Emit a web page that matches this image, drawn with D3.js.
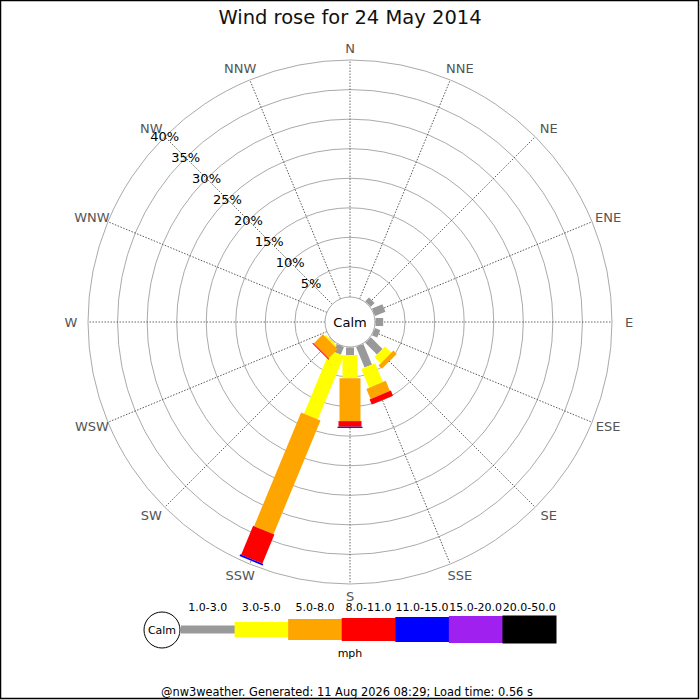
<!DOCTYPE html>
<html>
<head>
<meta charset="utf-8">
<script src="https://cdn.jsdelivr.net/npm/d3@7"></script>
<style>
  body { margin: 0; background: #fff; }
  text { font-family: "DejaVu Sans", sans-serif; }
</style>
</head>
<body>
<div id="chart"></div>
<script>
'use strict';

// compass points, clockwise from north
var directions = ['N', 'NNE', 'NE', 'ENE', 'E', 'ESE', 'SE', 'SSE',
                  'S', 'SSW', 'SW', 'WSW', 'W', 'WNW', 'NW', 'NNW'];

var speedBands = ['1.0-3.0', '3.0-5.0', '5.0-8.0', '8.0-11.0',
                  '11.0-15.0', '15.0-20.0', '20.0-50.0'];
var bandColors = ['#999999', '#ffff00', '#ffa500', '#ff0000',
                  '#0000ff', '#a020f0', '#000000'];

// frequency (%) per direction, one array per speed band
var band1to3   = [0, 0, 0.9, 1.9, 1.3, 0.95, 2.8, 3.75, 1.3, 1.4, 0.1, 0, 0, 0, 0, 0];
var band3to5   = [0, 0, 0, 0, 0, 0, 1.5, 3.45, 3.9, 11.6, 0.3, 0, 0, 0, 0, 0];
var band5to8   = [0, 0, 0, 0, 0, 0, 0.8, 1.85, 7.25, 20.8, 2.2, 0, 0, 0, 0, 0];
var band8to11  = [0, 0, 0, 0, 0, 0, 0, 0.95, 0.95, 5.3, 0.15, 0, 0, 0, 0, 0];
var band11to15 = [0, 0, 0, 0, 0, 0, 0, 0, 0.2, 0.3, 0, 0, 0, 0, 0, 0];
var band15to20 = [0, 0, 0, 0, 0, 0, 0, 0, 0, 0, 0, 0, 0, 0, 0, 0];
var band20to50 = [0, 0, 0, 0, 0, 0, 0, 0, 0, 0, 0, 0, 0, 0, 0, 0];

var ringTicks = [5, 10, 15, 20, 25, 30, 35, 40];

var title = 'Wind rose for 24 May 2014';
var footer = '@nw3weather. Generated: 11 Aug 2026 08:29; Load time: 0.56 s';

var W = 700, H = 700;
var cx = 350, cy = 322;
var calmR = 25;
var barWidths = [8, 15, 21, 23, 25, 27, 28];

var bandValues = [band1to3, band3to5, band5to8, band8to11, band11to15, band15to20, band20to50];

var r = d3.scaleLinear().domain([0, 40]).range([25.5, 262]);
var angle = d3.scaleBand().domain(directions).range([0, 360]);
function deg(d) { return angle(d); }

var svg = d3.select('#chart').append('svg')
    .attr('width', W)
    .attr('height', H);

svg.append('rect')
    .attr('x', 0.5).attr('y', 0.5)
    .attr('width', 698).attr('height', 698)
    .attr('fill', '#fff')
    .attr('stroke', '#000')
    .attr('stroke-width', 1.5);

svg.append('text')
    .attr('x', cx).attr('y', 24)
    .attr('text-anchor', 'middle')
    .attr('font-size', 19.5)
    .attr('fill', '#111')
    .text(title);

var g = svg.append('g').attr('transform', 'translate(' + cx + ',' + cy + ')');

// rings
g.selectAll('circle.ring')
    .data(ringTicks)
    .enter()
    .append('circle')
    .attr('class', 'ring')
    .attr('r', function(d) { return r(d); })
    .attr('fill', 'none')
    .attr('stroke', '#aaa')
    .attr('stroke-width', 1);

// spokes
g.selectAll('line.spoke')
    .data(directions)
    .enter()
    .append('line')
    .attr('class', 'spoke')
    .attr('transform', function(d) { return 'rotate(' + deg(d) + ')'; })
    .attr('x1', 0).attr('y1', -calmR)
    .attr('x2', 0).attr('y2', -r(40))
    .attr('stroke', '#444')
    .attr('stroke-width', 0.8)
    .attr('stroke-dasharray', '1.5,1.5');

// direction labels
g.selectAll('text.dir')
    .data(directions)
    .enter()
    .append('text')
    .attr('class', 'dir')
    .attr('x', function(d) {
        var s = Math.sin(deg(d) * Math.PI / 180);
        var shift = Math.abs(s) < 1e-6 ? 0 : (s > 0 ? 5 : -5);
        return 274 * s + shift;
    })
    .attr('y', function(d) { return -274 * Math.cos(deg(d) * Math.PI / 180); })
    .attr('text-anchor', 'middle')
    .attr('dominant-baseline', 'central')
    .attr('font-size', 13)
    .attr('fill', '#555')
    .text(function(d) { return d; });

// stacked bars
var stacked = directions.map(function(dir, i) {
    var cum = 0;
    return bandValues.map(function(vals, b) {
        var seg = { dir: dir, band: b, start: cum, end: cum + vals[i] };
        cum += vals[i];
        return seg;
    }).filter(function(s) { return s.end > s.start; });
});

g.selectAll('g.bar')
    .data(stacked)
    .enter()
    .append('g')
    .attr('class', 'bar')
    .selectAll('rect')
    .data(function(d) { return d; })
    .enter()
    .append('rect')
    .attr('transform', function(d) { return 'rotate(' + deg(d.dir) + ')'; })
    .attr('x', function(d) { return -barWidths[d.band] / 2; })
    .attr('y', function(d) { return -r(d.end); })
    .attr('width', function(d) { return barWidths[d.band]; })
    .attr('height', function(d) { return r(d.end) - r(d.start); })
    .attr('fill', function(d) { return bandColors[d.band]; });

// calm circle
g.append('circle')
    .attr('r', calmR)
    .attr('fill', '#fff')
    .attr('stroke', '#aaa')
    .attr('stroke-width', 1);

g.append('text')
    .attr('x', 0).attr('y', 0)
    .attr('text-anchor', 'middle')
    .attr('dominant-baseline', 'central')
    .attr('font-size', 13)
    .attr('fill', '#000')
    .text('Calm');

// percentage labels along NW spoke
var nw = angle('NW') * Math.PI / 180;
g.selectAll('text.pct')
    .data(ringTicks)
    .enter()
    .append('text')
    .attr('class', 'pct')
    .attr('x', function(d) { return r(d) * Math.sin(nw); })
    .attr('y', function(d) { return -r(d) * Math.cos(nw); })
    .attr('text-anchor', 'middle')
    .attr('dominant-baseline', 'central')
    .attr('font-size', 13)
    .attr('fill', '#000')
    .text(function(d) { return d + '%'; });

// legend
var lx = d3.scaleBand().domain(speedBands).range([181, 556]);
var ly = 629.5;

var legend = svg.append('g');

legend.selectAll('rect')
    .data(speedBands)
    .enter()
    .append('rect')
    .attr('x', function(d) { return lx(d); })
    .attr('y', function(d, i) { return ly - barWidths[i] / 2; })
    .attr('width', lx.bandwidth() + 0.5)
    .attr('height', function(d, i) { return barWidths[i]; })
    .attr('fill', function(d, i) { return bandColors[i]; });

legend.selectAll('text')
    .data(speedBands)
    .enter()
    .append('text')
    .attr('x', function(d) { return lx(d) + lx.bandwidth() / 2; })
    .attr('y', 611)
    .attr('text-anchor', 'middle')
    .attr('font-size', 11)
    .attr('fill', '#000')
    .text(function(d) { return d; });

legend.append('circle')
    .attr('cx', 162).attr('cy', 630)
    .attr('r', 18)
    .attr('fill', '#fff')
    .attr('stroke', '#000')
    .attr('stroke-width', 1);

legend.append('text')
    .attr('x', 162).attr('y', 630)
    .attr('text-anchor', 'middle')
    .attr('dominant-baseline', 'central')
    .attr('font-size', 11)
    .text('Calm');

legend.append('text')
    .attr('x', 350).attr('y', 657)
    .attr('text-anchor', 'middle')
    .attr('font-size', 11)
    .text('mph');

svg.append('text')
    .attr('x', 347).attr('y', 696)
    .attr('text-anchor', 'middle')
    .attr('font-size', 11.4)
    .attr('fill', '#000')
    .text(footer);
</script>
</body>
</html>
